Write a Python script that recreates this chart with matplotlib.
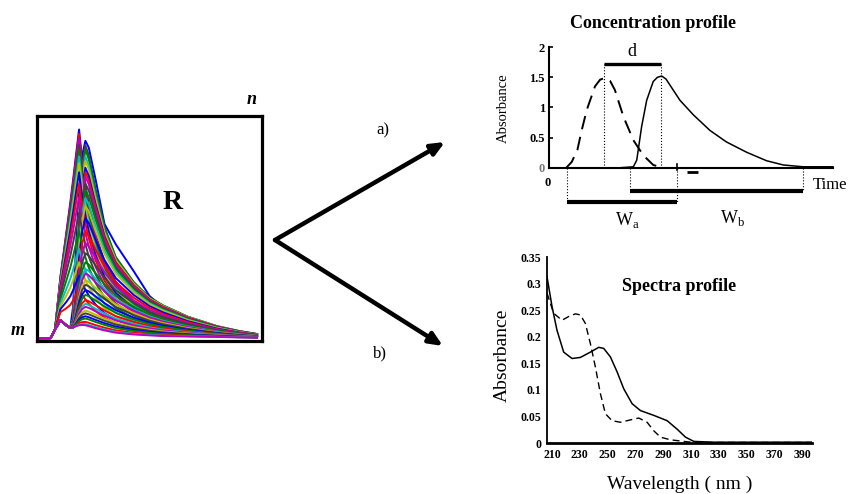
import numpy as np
import matplotlib.pyplot as plt

plt.rcParams['font.family'] = ['Liberation Serif', 'DejaVu Serif']
plt.rcParams['mathtext.fontset'] = 'custom'
plt.rcParams['mathtext.rm'] = 'Liberation Serif'

# ---- data matrix R (time profiles at many wavelengths) ----
r_grid = [0.013, 0.06, 0.08, 0.104, 0.13, 0.148, 0.16, 0.175, 0.187, 0.2, 0.215,
          0.23, 0.26, 0.3, 0.35, 0.43, 0.5, 0.56, 0.67, 0.8, 0.9, 0.978]
r_base = [0.013, 0.013, 0.05, 0.093, 0.07, 0.058, 0.06, 0.066, 0.07, 0.071, 0.07,
          0.066, 0.057, 0.047, 0.037, 0.029, 0.025, 0.022, 0.02, 0.018, 0.016, 0.015]
prof_a = [0, 0, 0, 0.22, 0.47, 0.64, 0.75, 0.89, 1.0, 0.85, 0.72,
          0.62, 0.48, 0.35, 0.26, 0.17, 0.12, 0.09, 0.06, 0.03, 0.015, 0.007]
prof_b_peak = [0, 0, 0, 0, 0, 0, 0.1, 0.45, 0.7, 0.9, 1.0,
               0.9, 0.6, 0.3, 0.12, 0.03, 0, 0, 0, 0, 0, 0]
prof_b_tail = [0, 0, 0, 0, 0, 0, 0.0, 0.3, 0.6, 0.85, 1.0,
               1.0, 0.95, 0.85, 0.72, 0.55, 0.42, 0.34, 0.22, 0.12, 0.07, 0.04]
outer_curve = [0.013, 0.013, 0.05, 0.093, 0.07, 0.058, 0.15, 0.45, 0.65, 0.82, 0.89,
               0.86, 0.72, 0.52, 0.43, 0.31, 0.2, 0.15, 0.095, 0.05, 0.03, 0.022]
amp_a = [0.87, 0.85, 0.83, 0.8, 0.78, 0.75, 0.72, 0.68, 0.63, 0.57, 0.5, 0.42, 0.34,
         0.28, 0.22, 0.16]
amp_b = [0.8, 0.78, 0.75, 0.73, 0.7, 0.68, 0.66, 0.63, 0.6, 0.565, 0.53, 0.475, 0.415,
         0.365, 0.32, 0.28, 0.25, 0.23, 0.2, 0.18, 0.157, 0.135, 0.112, 0.095, 0.082,
         0.065, 0.053, 0.04, 0.03, 0.015, 0.005, 0.0]
tail_b = [0.4, 0.4, 0.39, 0.39, 0.38, 0.38, 0.37, 0.36, 0.35, 0.34, 0.33, 0.31, 0.29,
          0.27, 0.25, 0.22, 0.2, 0.19, 0.17, 0.155, 0.135, 0.12, 0.1, 0.085, 0.074,
          0.06, 0.049, 0.037, 0.028, 0.014, 0.005, 0.0]
line_colors = ['#0000ff', '#008000', '#ff0000', '#00bfbf', '#bf00bf', '#bfbf00', '#404040']

# ---- concentration profile ----
t_dashed = [6, 8, 10, 11.5, 13.3, 16.2, 18, 19.7, 21.5, 23.2, 26.2, 29.7, 33.2, 36.7, 39.7]
c_dashed = [0, 0.1, 0.3, 0.62, 0.96, 1.35, 1.46, 1.49, 1.44, 1.29, 0.85, 0.46, 0.21, 0.05, 0.01]
t_solid = [23.8, 29.7, 30.9, 32.6, 34.4, 36.7, 38.2, 39.7, 41.2, 42.6, 46.1, 50.8,
           56.7, 62.5, 69.6, 76.6, 82.5, 89.5, 100]
c_solid = [0.0, 0.02, 0.13, 0.68, 1.12, 1.43, 1.5, 1.52, 1.47, 1.37, 1.12, 0.88,
           0.62, 0.43, 0.26, 0.12, 0.05, 0.02, 0.02]
d_span = (19.2, 39.4)
wa_span = (6.3, 45.0)
wb_span = (28.5, 89.4)
conc_ticks = [0, 0.5, 1, 1.5, 2]
conc_ticklabels = ['0', '0.5', '1', '1.5', '2']

# ---- spectra profile ----
wl_solid = [206.4, 210, 213.6, 218.4, 224.4, 230.4, 237.6, 243.6, 247.2, 252, 256.8,
            261.6, 267.6, 273.6, 283.2, 292.8, 300, 306, 312, 326, 397]
abs_solid = [0.313, 0.257, 0.212, 0.171, 0.159, 0.161, 0.171, 0.18, 0.178, 0.162, 0.134,
             0.102, 0.074, 0.061, 0.052, 0.042, 0.026, 0.011, 0.003, 0.0015, 0.0015]
wl_dashed = [206.4, 211.2, 217.2, 222, 226.8, 230.4, 234, 237.6, 241.2, 244.8, 248.4,
             253.2, 259.2, 266.4, 272.4, 278.4, 283.2, 288, 295.2, 304.8, 312, 397]
abs_dashed = [0.282, 0.244, 0.231, 0.238, 0.243, 0.241, 0.225, 0.187, 0.143, 0.093, 0.055,
              0.042, 0.039, 0.0435, 0.047, 0.039, 0.023, 0.011, 0.006, 0.003, 0.001, 0.001]
spec_xticks = [210, 230, 250, 270, 290, 310, 330, 350, 370, 390]
spec_yticks = [0, 0.05, 0.1, 0.15, 0.2, 0.25, 0.3, 0.35]
spec_yticklabels = ['0', '0.05', '0.1', '0.15', '0.2', '0.25', '0.3', '0.35']

W, H = 849, 494
fig = plt.figure(figsize=(W / 100, H / 100), dpi=100)


def px_axes(left, top, right, bottom):
    return fig.add_axes([left / W, 1 - bottom / H, (right - left) / W, (bottom - top) / H])


# R box
axr = px_axes(37, 116, 262, 341)
axr.set_xlim(0, 1)
axr.set_ylim(0, 1)
axr.set_xticks([])
axr.set_yticks([])
for s in axr.spines.values():
    s.set_linewidth(2.3)
base = np.array(r_base)
pa = np.array(prof_a)
pb_peak = np.array(prof_b_peak)
pb_tail = np.array(prof_b_tail)
axr.plot(r_grid, outer_curve, color=line_colors[0], lw=1.4)
k = 5
for i in range(max(len(amp_a), len(amp_b))):
    if i < len(amp_b):
        k += 1
        y = base + (amp_b[i] - tail_b[i]) * pb_peak + tail_b[i] * pb_tail
        axr.plot(r_grid, y, color=line_colors[k % 7], lw=1.4)
    if i < len(amp_a):
        k += 1
        axr.plot(r_grid, base + amp_a[i] * pa, color=line_colors[k % 7], lw=1.4)

# concentration profile axes
axc = px_axes(549, 47, 833, 168)
axc.set_xlim(0, 100)
axc.set_ylim(0, 2)
axc.plot(t_dashed, c_dashed, color='k', lw=1.4, dashes=(7, 4))
axc.plot(t_solid, c_solid, color='k', lw=1.1, clip_on=False)
for sp in ['top', 'right']:
    axc.spines[sp].set_visible(False)
axc.spines['left'].set_linewidth(1.5)
axc.spines['bottom'].set_linewidth(1.5)
axc.set_xticks([])
axc.set_yticks(conc_ticks)
axc.set_yticklabels(conc_ticklabels, fontsize=9, fontweight='bold')
axc.get_yticklabels()[0].set_color('#777777')
axc.tick_params(axis='y', direction='in', length=3, width=1.2, pad=3)

d_y, wb_y, wa_y = 1.72, -0.38, -0.56
axc.plot(d_span, [d_y, d_y], color='k', lw=2.4, solid_capstyle='butt', clip_on=False)
axc.plot(wa_span, [wa_y, wa_y], color='k', lw=3, solid_capstyle='butt', clip_on=False)
axc.plot(wb_span, [wb_y, wb_y], color='k', lw=3, solid_capstyle='butt', clip_on=False)
for x in d_span:
    axc.plot([x, x], [0, d_y], color='k', lw=0.8, ls=':', clip_on=False)
for x in wa_span:
    axc.plot([x, x], [0, wa_y], color='k', lw=0.8, ls=':', clip_on=False)
for x in wb_span:
    axc.plot([x, x], [0, wb_y], color='k', lw=0.8, ls=':', clip_on=False)
axc.plot([wa_span[1], wa_span[1]], [-0.04, 0.06], color='k', lw=1.2, clip_on=False)
axc.plot([48.6, 52.5], [-0.07, -0.07], color='k', lw=2, solid_capstyle='butt', clip_on=False)

# spectra profile axes
axs = px_axes(547, 257, 812, 443)
axs.set_xlim(206.4, 397)
axs.set_ylim(0, 0.35)
axs.plot(wl_solid, abs_solid, color='k', lw=1.1)
axs.plot(wl_dashed, abs_dashed, color='k', lw=1.0, dashes=(5, 3))
for sp in ['top', 'right']:
    axs.spines[sp].set_visible(False)
axs.spines['left'].set_linewidth(1.3)
axs.spines['bottom'].set_linewidth(2)
axs.set_xticks(spec_xticks)
axs.set_xticklabels([str(v) for v in spec_xticks], fontsize=8.5, fontweight='bold')
axs.set_yticks(spec_yticks)
axs.set_yticklabels(spec_yticklabels, fontsize=8.5, fontweight='bold')
axs.tick_params(length=0, pad=4)

# overlay for arrows and labels (pixel coordinates)
ov = fig.add_axes([0, 0, 1, 1])
ov.set_xlim(0, W)
ov.set_ylim(H, 0)
ov.axis('off')

vertex = (275, 240)
for tip in [(445, 142), (443, 346)]:
    ov.annotate('', xy=tip, xytext=vertex,
                arrowprops=dict(arrowstyle='-|>,head_length=0.8,head_width=0.35',
                                lw=3.2, color='k', shrinkA=0, shrinkB=0))

ov.text(252, 99, 'n', fontsize=13, fontweight='bold', fontstyle='italic', ha='center', va='center')
ov.text(18, 330, 'm', fontsize=13, fontweight='bold', fontstyle='italic', ha='center', va='center')
ov.text(173, 202, 'R', fontsize=20, fontweight='bold', ha='center', va='center')
ov.text(383, 130, 'a)', fontsize=12, ha='center', va='center')
ov.text(380, 353, 'b)', fontsize=12, ha='center', va='center')

ov.text(653, 23, 'Concentration profile', fontsize=13, fontweight='bold', ha='center', va='center')
ov.text(632, 52, 'd', fontsize=13, ha='center', va='center')
ov.text(548, 183, '0', fontsize=9, fontweight='bold', ha='center', va='center')
ov.text(830, 185, 'Time', fontsize=12, ha='center', va='center')
ov.text(627, 220, r'W$_{\rm a}$', fontsize=13, ha='center', va='center')
ov.text(733, 218, r'W$_{\rm b}$', fontsize=13, ha='center', va='center')
ov.text(503, 108, 'Absorbance', fontsize=10.5, rotation=90, ha='center', va='center')

ov.text(679, 286, 'Spectra profile', fontsize=13, fontweight='bold', ha='center', va='center')
ov.text(502, 355, 'Absorbance', fontsize=14, rotation=90, ha='center', va='center')
ov.text(680, 484, 'Wavelength ( nm )', fontsize=14, ha='center', va='center')

fig.savefig('out.png', dpi=100)
